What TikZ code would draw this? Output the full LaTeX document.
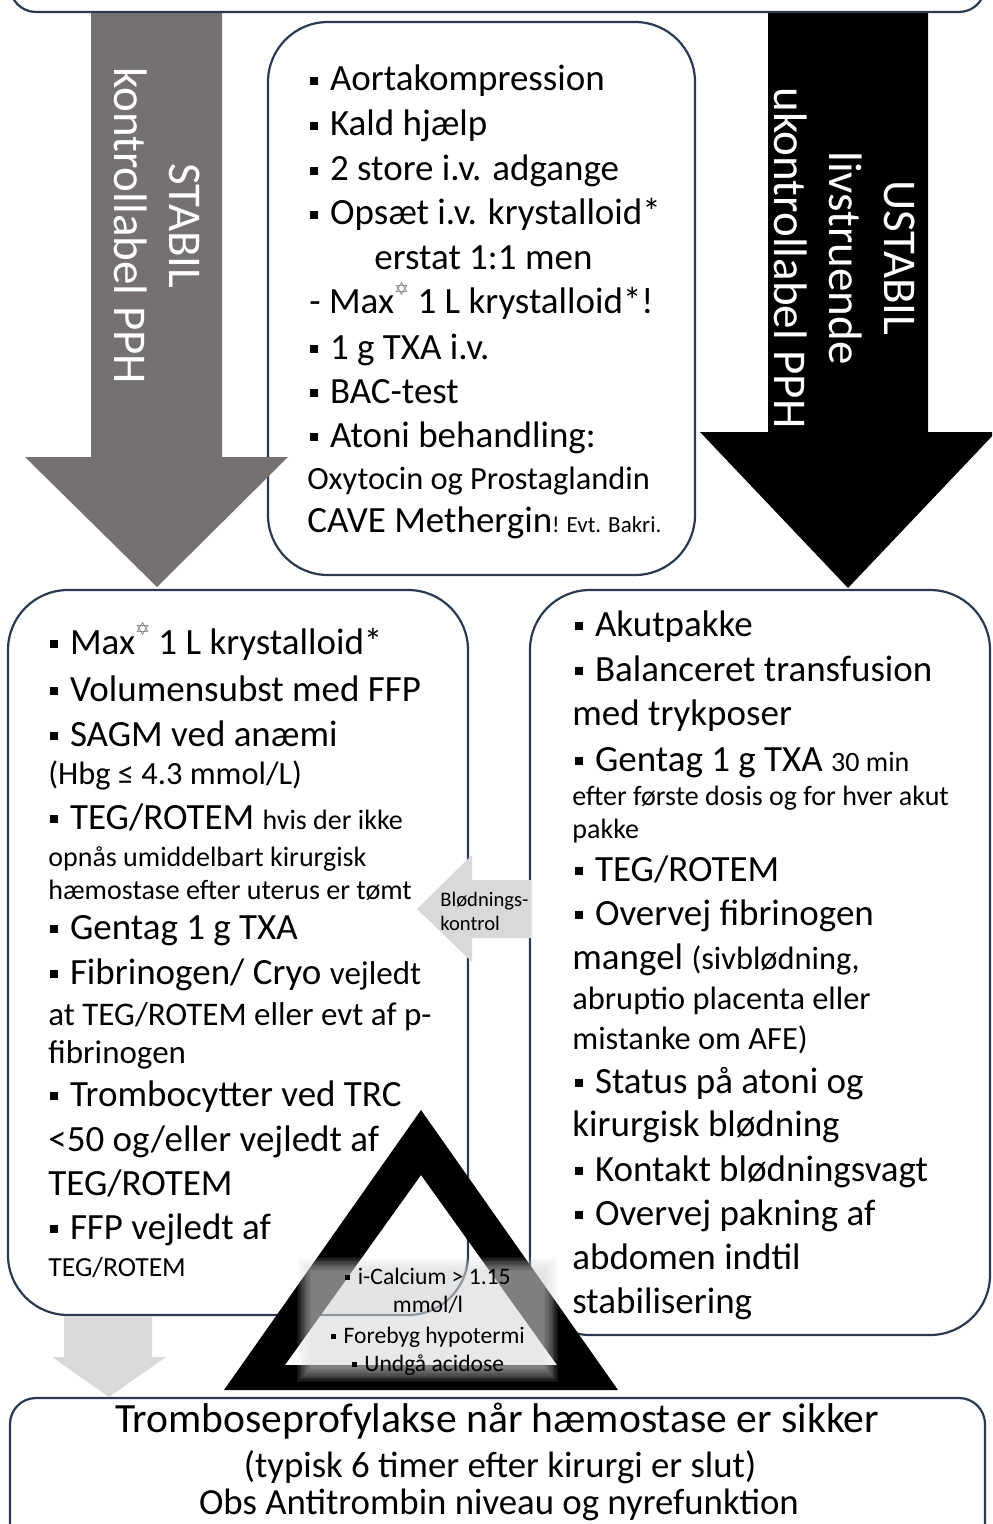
\documentclass[tikz,border=0pt]{standalone}
\usepackage{fontspec}
\setmainfont{Carlito}
\newfontfamily\symfont{DejaVu Sans}
\definecolor{boxline}{HTML}{2B3A4F}
\definecolor{stabgray}{HTML}{767171}
\definecolor{lightarrow}{HTML}{D9D9D9}
\newcommand\fs[1]{\fontsize{#1}{#1}\selectfont}
\newcommand\bul{\rule[0.17em]{0.21em}{0.21em}\hspace{0.32em}}
\newcommand\hstar{\raisebox{0.5em}{\symfont\color{black!50}\fontsize{9}{9}\selectfont ✡}}
\tikzset{
  ln/.style={anchor=base west, inner sep=0pt, font=\fs{18.5}},
  cn/.style={anchor=base, inner sep=0pt},
  roundbox/.style={draw=boxline, line width=1.1pt, fill=white, rounded corners=30pt},
  flatbox/.style={draw=boxline, line width=1.1pt, fill=white, rounded corners=13pt},
  arrowtext/.style={rotate=-90, align=center, text=white, inner sep=0pt,
    font=\fontsize{23.5}{27.5}\selectfont}
}
\begin{document}
\begin{tikzpicture}[x=0.5pt,y=-0.5pt]
\useasboundingbox (0,0) rectangle (992,1524);
\clip (0,0) rectangle (992,1524);

% middle box: first measures
\draw[roundbox] (268,22) rectangle (695,575);

% the two big arrows
\fill[stabgray] (91,0) -- (222,0) -- (222,457) -- (288,457) -- (157,587) -- (25,457) -- (91,457) -- cycle;
\fill[black] (768,0) -- (928,0) -- (928,432) -- (996,432) -- (848,588) -- (700,432) -- (768,432) -- cycle;
\node[arrowtext] (stab) at (157,226) {STABIL\\kontrollabel PPH};
\node[arrowtext] (ustab) at (845,258) {USTABIL\\livstruende\\ukontrollabel PPH};

% top box
\draw[flatbox] (10,-60) rectangle (985,12);

% lower boxes
\draw[roundbox] (8,590) rectangle (468,1315);
\draw[roundbox] (530,590) rectangle (990,1335);

% bleeding-control arrow
\fill[lightarrow] (531,880) -- (472,880) -- (472,855) -- (417,909) -- (472,962) -- (472,938) -- (531,938) -- cycle;
\node[ln, font=\fs{10.3}] (bk1) at (440,906) {Blødnings-};
\node[ln, font=\fs{10.3}] (bk2) at (440,930) {kontrol};

% middle box text
\node[ln] (m1) at (310,91) {\bul Aortakompression};
\node[ln] (m2) at (310,136) {\bul Kald hjælp};
\node[ln] (m3) at (310,181) {\bul 2 store i.v. adgange};
\node[ln] (m4) at (310,225) {\bul Opsæt i.v. krystalloid*};
\node[ln] (m5) at (374,270) {erstat 1:1 men};
\node[ln] (m6) at (309,314) {- Max\hstar{} 1 L krystalloid*!};
\node[ln] (m7) at (310,359) {\bul 1 g TXA i.v.};
\node[ln] (m8) at (310,403) {\bul BAC-test};
\node[ln] (m9) at (310,447) {\bul Atoni behandling:};
\node[ln, font=\fs{16.2}] (m10) at (307,489) {Oxytocin og Prostaglandin};
\node[ln] (m11) at (307,532) {CAVE Methergin{\fs{11.5}! Evt. Bakri.}};

% left box text
\node[ln] (l1) at (50,654) {\bul Max\hstar{} 1 L krystalloid*};
\node[ln] (l2) at (50,701) {\bul Volumensubst med FFP};
\node[ln] (l3) at (50,746) {\bul SAGM ved anæmi};
\node[ln, font=\fs{16.2}] (l4) at (48,784) {(Hbg ≤ 4.3 mmol/L)};
\node[ln] (l5) at (50,829) {\bul TEG/ROTEM {\fs{14}hvis der ikke}};
\node[ln, font=\fs{14}] (l6) at (48,866) {opnås umiddelbart kirurgisk};
\node[ln, font=\fs{14}] (l7) at (48,899) {hæmostase efter uterus er tømt};
\node[ln] (l8) at (50,939) {\bul Gentag 1 g TXA};
\node[ln] (l9) at (50,984) {\bul Fibrinogen/ Cryo {\fs{16.5}vejledt}};
\node[ln, font=\fs{16.5}] (l10) at (48,1025) {at TEG/ROTEM eller evt af p-};
\node[ln, font=\fs{16.5}] (l11) at (48,1063) {fibrinogen};
\node[ln] (l12) at (50,1106) {\bul Trombocytter ved TRC};
\node[ln] (l13) at (48,1151) {<50 og/eller vejledt af};
\node[ln] (l14) at (48,1195) {TEG/ROTEM};
\node[ln] (l15) at (50,1239) {\bul FFP vejledt af};
\node[ln, font=\fs{13.8}] (l16) at (48,1276) {TEG/ROTEM};

% right box text
\node[ln] (r1) at (575,636) {\bul Akutpakke};
\node[ln] (r2) at (575,681) {\bul Balanceret transfusion};
\node[ln] (r3) at (572,725) {med trykposer};
\node[ln] (r4) at (575,771) {\bul Gentag 1 g TXA {\fs{14}30 min}};
\node[ln, font=\fs{14}] (r5) at (572,805) {efter første dosis og for hver akut};
\node[ln, font=\fs{14}] (r6) at (572,838) {pakke};
\node[ln] (r7) at (575,881) {\bul TEG/ROTEM};
\node[ln] (r8) at (575,925) {\bul Overvej fibrinogen};
\node[ln] (r9) at (572,969) {mangel {\fs{16.2}(sivblødning,}};
\node[ln, font=\fs{16.2}] (r10) at (572,1009) {abruptio placenta eller};
\node[ln, font=\fs{16.2}] (r11) at (572,1049) {mistanke om AFE)};
\node[ln] (r12) at (575,1093) {\bul Status på atoni og};
\node[ln] (r13) at (572,1136) {kirurgisk blødning};
\node[ln] (r14) at (575,1181) {\bul Kontakt blødningsvagt};
\node[ln] (r15) at (575,1225) {\bul Overvej pakning af};
\node[ln] (r16) at (572,1269) {abdomen indtil};
\node[ln] (r17) at (572,1313) {stabilisering};

% triangle with its soft label panel
\fill[black, even odd rule] (421,1110) -- (618,1390) -- (224,1390) -- cycle
  (421,1175) -- (557,1365) -- (285,1365) -- cycle;
\foreach \i in {0,...,11}
  \fill[black!15, opacity=0.075] (297+1.3*\i,1257+1.3*\i) rectangle (558-1.3*\i,1382-1.3*\i);
\node[cn, font=\fs{11.8}] (t1) at (428,1284) {\bul i-Calcium > 1.15};
\node[cn, font=\fs{11.8}] (t2) at (428,1312) {mmol/l};
\node[cn, font=\fs{11.8}] (t3) at (428,1343) {\bul Forebyg hypotermi};
\node[cn, font=\fs{11.8}] (t4) at (428,1371) {\bul Undgå acidose};

% arrow to the final box
\fill[lightarrow] (64,1316) -- (152,1316) -- (152,1357) -- (166,1357) -- (109,1397) -- (52,1357) -- (64,1357) -- cycle;

% final box
\draw[flatbox] (10,1398) rectangle (985,1600);
\node[cn, font=\fs{20.8}] (b1) at (497,1432) {Tromboseprofylakse når hæmostase er sikker};
\node[cn, font=\fs{18.4}] (b2) at (500,1477) {(typisk 6 timer efter kirurgi er slut)};
\node[cn, font=\fs{18.4}] (b3) at (499,1514) {Obs Antitrombin niveau og nyrefunktion};
\end{tikzpicture}
\end{document}
